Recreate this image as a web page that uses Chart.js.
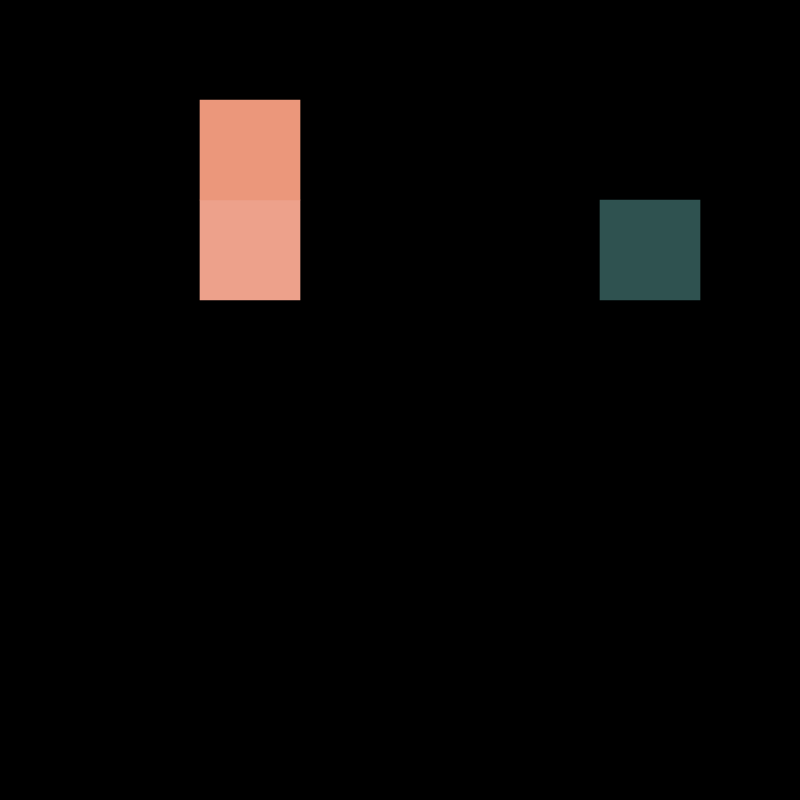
<!DOCTYPE html>
<html>
<head>
<meta charset="utf-8">
<script src="https://cdn.jsdelivr.net/npm/chart.js@4"></script>
<style>
    html, body { margin: 0; padding: 0; background: #000; }
    #wrap { width: 800px; height: 800px; position: relative; }
</style>
</head>
<body>
<div id="wrap"><canvas id="chartGrid"></canvas></div>
<script>
// 8 x 8 grid, null = empty cell
const columns = ['0', '1', '2', '3', '4', '5', '6', '7'];
const rows = [0, 1, 2, 3, 4, 5, 6, 7];
const cellValues = [
    [null, null, null, null, null, null, null, null],
    [null, null, 0.92, null, null, null, null, null],
    [null, null, 0.84, null, null, null, -0.61, null],
    [null, null, null, null, null, null, null, null],
    [null, null, null, null, null, null, null, null],
    [null, null, null, null, null, null, null, null],
    [null, null, null, null, null, null, null, null],
    [null, null, null, null, null, null, null, null]
];

function cellColour(value) {
    if (value === null) return 'rgba(0,0,0,0)';
    if (value < 0) return '#2f5250';
    return value > 0.88 ? '#eb977b' : '#eda18b';
}

const datasets = rows.map(row => ({
    label: 'row ' + row,
    data: cellValues[row].map(v => v === null ? null : [row, row + 1]),
    backgroundColor: cellValues[row].map(cellColour),
    borderWidth: 0,
    borderSkipped: false,
    grouped: false,
    barPercentage: 1,
    categoryPercentage: 1
}));

const ctx = document.getElementById('chartGrid').getContext('2d');
new Chart(ctx, {
    type: 'bar',
    data: {labels: columns, datasets: datasets},
    options: {
        responsive: true,
        maintainAspectRatio: false,
        animation: false,
        layout: {padding: 0},
        scales: {
            x: {display: false, offset: true},
            y: {display: false, min: 0, max: 8, reverse: true}
        },
        plugins: {
            legend: {display: false},
            tooltip: {enabled: false}
        }
    }
});
</script>
</body>
</html>
